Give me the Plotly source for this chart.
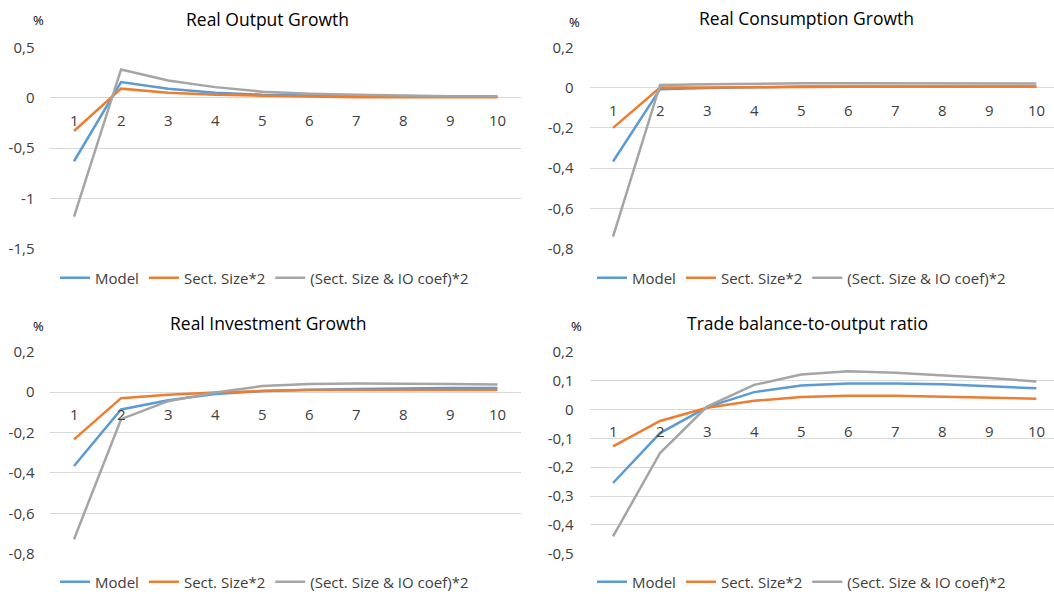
import plotly.graph_objects as go

# ---------------- data ----------------
periods = [1, 2, 3, 4, 5, 6, 7, 8, 9, 10]
period_labels = ["1", "2", "3", "4", "5", "6", "7", "8", "9", "10"]
series_names = ["Model", "Sect. Size*2", "(Sect. Size & IO coef)*2"]
series_colors = ["#5B9BD5", "#ED7D31", "#A5A5A5"]

titles = ["Real Output Growth", "Real Consumption Growth",
          "Real Investment Growth", "Trade balance-to-output ratio"]

output_model = [-0.63, 0.155, 0.09, 0.05, 0.03, 0.02, 0.015, 0.01, 0.01, 0.01]
output_sect = [-0.33, 0.09, 0.05, 0.03, 0.02, 0.01, 0.005, 0.005, 0.005, 0.005]
output_io = [-1.18, 0.28, 0.17, 0.105, 0.06, 0.04, 0.03, 0.02, 0.015, 0.015]

cons_model = [-0.367, -0.008, -0.002, 0.003, 0.005, 0.005, 0.005, 0.005, 0.005, 0.005]
cons_sect = [-0.2, 0.0, 0.0, 0.002, 0.003, 0.004, 0.004, 0.005, 0.005, 0.005]
cons_io = [-0.74, 0.013, 0.017, 0.02, 0.021, 0.022, 0.022, 0.022, 0.021, 0.02]

inv_model = [-0.366, -0.086, -0.04, -0.01, 0.005, 0.012, 0.015, 0.018, 0.02, 0.02]
inv_sect = [-0.234, -0.03, -0.013, -0.002, 0.005, 0.01, 0.01, 0.01, 0.01, 0.01]
inv_io = [-0.728, -0.134, -0.045, -0.002, 0.03, 0.04, 0.043, 0.043, 0.04, 0.038]

tb_model = [-0.255, -0.082, 0.008, 0.06, 0.083, 0.09, 0.09, 0.087, 0.08, 0.073]
tb_sect = [-0.128, -0.04, 0.006, 0.03, 0.043, 0.047, 0.047, 0.044, 0.042, 0.037]
tb_io = [-0.44, -0.151, 0.01, 0.085, 0.121, 0.132, 0.127, 0.119, 0.109, 0.097]

panel_series = [
    [output_model, output_sect, output_io],
    [cons_model, cons_sect, cons_io],
    [inv_model, inv_sect, inv_io],
    [tb_model, tb_sect, tb_io],
]

ytick_vals = [
    [-1.5, -1.0, -0.5, 0.0, 0.5],
    [-0.8, -0.6, -0.4, -0.2, 0.0, 0.2],
    [-0.8, -0.6, -0.4, -0.2, 0.0, 0.2],
    [-0.5, -0.4, -0.3, -0.2, -0.1, 0.0, 0.1, 0.2],
]
ytick_text = [
    ["-1,5", "-1", "-0,5", "0", "0,5"],
    ["-0,8", "-0,6", "-0,4", "-0,2", "0", "0,2"],
    ["-0,8", "-0,6", "-0,4", "-0,2", "0", "0,2"],
    ["-0,5", "-0,4", "-0,3", "-0,2", "-0,1", "0", "0,1", "0,2"],
]

# ---------------- layout ----------------
FONT = "Open Sans"
W, H = 1054, 594

x_domains = [[0.0479, 0.4943], [0.5593, 1.0], [0.0479, 0.4943], [0.5593, 1.0]]
y_domains = [[0.5808, 0.9204], [0.5813, 0.9204], [0.0678, 0.4079], [0.0678, 0.4079]]
x_ranges = [[0.5, 10.5], [0.5, 10.375], [0.5, 10.5], [0.5, 10.375]]
title_pos = [(267, 19), (806, 18), (268, 323), (807, 323)]
pct_pos = [(38, 20), (574, 22), (38, 326), (576, 326)]
legend_pos = [(55, 278), (592, 278), (55, 582), (592, 582)]

fig = go.Figure()
annotations = []

for p in range(4):
    sfx = "" if p == 0 else str(p + 1)
    legend_id = "legend" if p == 0 else "legend" + str(p + 1)
    for s in range(3):
        fig.add_trace(go.Scatter(
            x=periods, y=panel_series[p][s], mode="lines", name=series_names[s],
            line=dict(color=series_colors[s], width=2.5),
            xaxis="x" + sfx, yaxis="y" + sfx, legend=legend_id,
            hoverinfo="skip",
        ))
    yr = [ytick_vals[p][0], ytick_vals[p][-1]]
    fig.layout["xaxis" + sfx] = dict(
        domain=x_domains[p], range=x_ranges[p], anchor="y" + sfx,
        showgrid=False, zeroline=False, showline=False, showticklabels=False,
        fixedrange=True, automargin=False,
    )
    fig.layout["yaxis" + sfx] = dict(
        domain=y_domains[p], range=yr, anchor="x" + sfx,
        tickvals=ytick_vals[p], ticktext=ytick_text[p],
        showgrid=True, gridcolor="#D9D9D9", gridwidth=1,
        zeroline=False, showline=False,
        ticks="outside", ticklen=12, tickcolor="rgba(0,0,0,0)",
        tickfont=dict(family=FONT, size=15, color="#404040"),
        fixedrange=True, automargin=False,
    )
    # category labels sitting just under the zero line
    for xv, lab in zip(periods, period_labels):
        annotations.append(dict(
            x=xv, y=0, xref="x" + sfx, yref="y" + sfx, text=lab,
            showarrow=False, yanchor="middle", xanchor="center", yshift=-22,
            font=dict(family=FONT, size=15, color="#404040"),
        ))
    tx, ty = title_pos[p]
    annotations.append(dict(
        x=tx / W, y=1 - ty / H, xref="paper", yref="paper", text=titles[p],
        showarrow=False, xanchor="center", yanchor="middle",
        font=dict(family=FONT, size=17.5, color="#000000"),
    ))
    px_, py_ = pct_pos[p]
    annotations.append(dict(
        x=px_ / W, y=1 - py_ / H, xref="paper", yref="paper", text="%",
        showarrow=False, xanchor="center", yanchor="middle",
        font=dict(family=FONT, size=13, color="#000000"),
    ))
    lx, ly = legend_pos[p]
    fig.layout[legend_id] = dict(
        orientation="h", x=lx / W, y=1 - ly / H, xanchor="left", yanchor="middle",
        font=dict(family=FONT, size=15, color="#404040"),
        bgcolor="rgba(0,0,0,0)", borderwidth=0, tracegroupgap=0,
    )

fig.update_layout(
    template="none",
    width=W, height=H,
    margin=dict(l=0, r=0, t=0, b=0, pad=0, autoexpand=False),
    paper_bgcolor="white", plot_bgcolor="white",
    showlegend=True,
    annotations=annotations,
    font=dict(family=FONT),
)

fig.write_html(
    "out.html",
    config={"displayModeBar": False},
    post_script="document.body.style.margin='0';document.body.style.overflow='hidden';",
)
